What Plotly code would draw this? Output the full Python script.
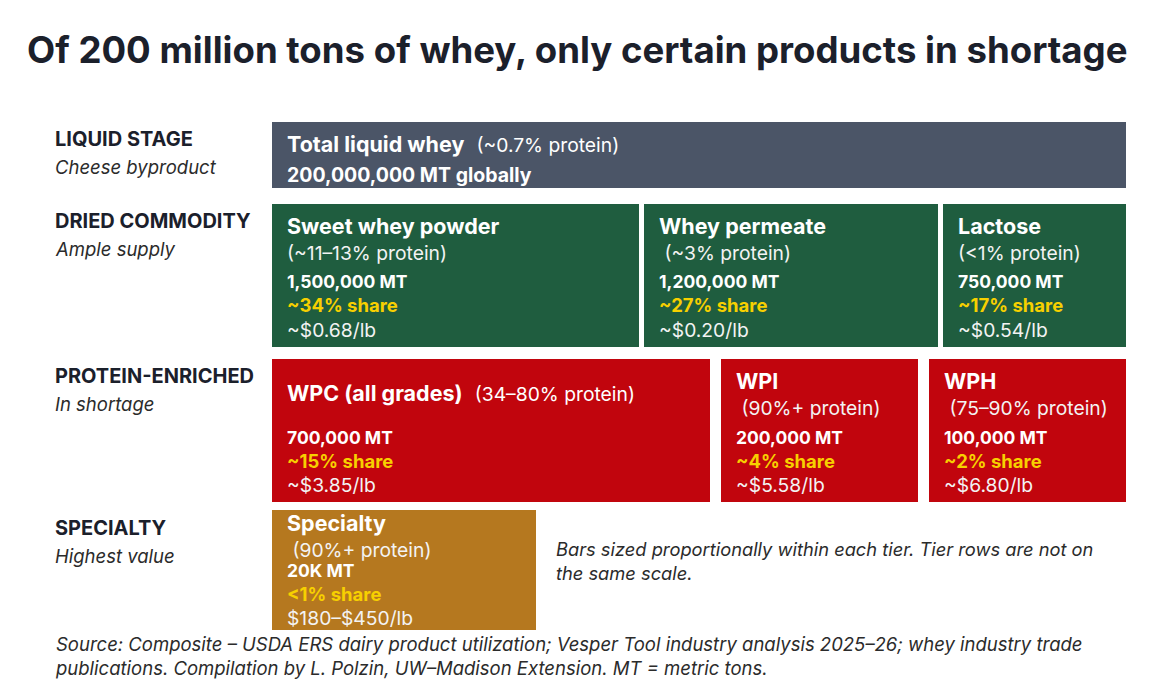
import plotly.graph_objects as go

# ---------------- data ----------------
title = "Of 200 million tons of whey, only certain products in shortage"

tier_names = ["LIQUID STAGE", "DRIED COMMODITY", "PROTEIN-ENRICHED", "SPECIALTY"]
tier_subs = ["Cheese byproduct", "Ample supply", "In shortage", "Highest value"]

liquid_names = ["Total liquid whey"]
liquid_protein = ["(~0.7% protein)"]
liquid_mt = [200_000_000]

dried_names = ["Sweet whey powder", "Whey permeate", "Lactose"]
dried_protein = ["(~11–13% protein)", " (~3% protein)", "(<1% protein)"]
dried_mt = [1_500_000, 1_200_000, 750_000]
dried_share = ["~34% share", "~27% share", "~17% share"]
dried_price = ["~$0.68/lb", "~$0.20/lb", "~$0.54/lb"]

prot_names = ["WPC (all grades)", "WPI", "WPH"]
prot_protein = ["(34–80% protein)", " (90%+ protein)", " (75–90% protein)"]
prot_mt = [700_000, 200_000, 100_000]
prot_share = ["~15% share", "~4% share", "~2% share"]
prot_price = ["~$3.85/lb", "~$5.58/lb", "~$6.80/lb"]

spec_names = ["Specialty"]
spec_protein = [" (90%+ protein)"]
spec_mt_label = ["20K MT"]
spec_mt = [20_000]
spec_share = ["<1% share"]
spec_price = ["$180–$450/lb"]

note = "Bars sized proportionally within each tier. Tier rows are not on<br>the same scale."
source = ("Source: Composite – USDA ERS dairy product utilization; Vesper Tool industry analysis 2025–26; whey industry trade<br>"
          "publications. Compilation by L. Polzin, UW–Madison Extension. MT = metric tons.")

# ---------------- layout constants ----------------
W, H = 1152, 680
FONT = "Inter, 'Noto Sans', sans-serif"
X0, ROW_W = 272, 854
ROWS = [(122, 66), (204, 143), (359, 143), (510, 120)]  # top, height
COLORS = ["#4b5567", "#1f5d3f", "#c1050d", "#b5781f"]
YELLOW = "#f7d000"
BODY = "#f3f3f3"
DARK = "#1b202b"
PAD = 13
T_SIZE = 21.5   # box titles
R_SIZE = 19.3   # regular lines
B_SIZE = 17.5   # bold MT lines
S_SIZE = 18.5   # share lines


def tier_layout(values, gap, min_w, full=ROW_W):
    avail = full - gap * (len(values) - 1)
    total = sum(values)
    widths = [avail * v / total for v in values]
    clamped = [w < min_w for w in widths]
    if any(clamped):
        rest = avail - min_w * sum(clamped)
        free_total = sum(v for v, c in zip(values, clamped) if not c)
        widths = [min_w if c else rest * v / free_total for v, c in zip(values, clamped)]
    starts, x = [], X0
    for w in widths:
        starts.append(x)
        x += w + gap
    return starts, widths


fig = go.Figure()
annots = []


def add_text(x, y, text, size, color=BODY, bold=False, italic=False, xanchor="left"):
    t = text
    if bold:
        t = f"<b>{t}</b>"
    if italic:
        t = f"<i>{t}</i>"
    annots.append(dict(x=x, y=y, xref="x", yref="y", text=t, showarrow=False,
                       xanchor=xanchor, yanchor="middle",
                       font=dict(family=FONT, size=size, color=color)))


def add_bars(starts, widths, row_idx):
    top, h = ROWS[row_idx]
    fig.add_trace(go.Bar(orientation="h", y=[top + h / 2] * len(widths), x=widths,
                         base=starts, width=[h] * len(widths),
                         marker=dict(color=COLORS[row_idx], line=dict(width=0)),
                         hoverinfo="skip", showlegend=False))


# Tier 1 - liquid
s1, w1 = tier_layout(liquid_mt, 0, 0)
add_bars(s1, w1, 0)
top = ROWS[0][0]
add_text(s1[0] + PAD, top + 22,
         f"<b>{liquid_names[0]}</b>  <span style='font-size:{R_SIZE}px'>{liquid_protein[0]}</span>", T_SIZE, "#ffffff")
add_text(s1[0] + PAD, top + 53, f"{liquid_mt[0]:,} MT globally", 19.5, "#ffffff", bold=True)

# Tier 2 - dried
s2, w2 = tier_layout(dried_mt, 5, 0)
add_bars(s2, w2, 1)
top = ROWS[1][0]
for i in range(len(dried_mt)):
    x = s2[i] + PAD
    add_text(x, top + 22, dried_names[i], T_SIZE, "#ffffff", bold=True)
    add_text(x, top + 49, dried_protein[i], R_SIZE)
    add_text(x, top + 77, f"{dried_mt[i]:,} MT", B_SIZE, "#ffffff", bold=True)
    add_text(x, top + 101, dried_share[i], S_SIZE, YELLOW, bold=True)
    add_text(x, top + 126, dried_price[i], R_SIZE)

# Tier 3 - protein enriched
s3, w3 = tier_layout(prot_mt, 11, 197)
add_bars(s3, w3, 2)
top = ROWS[2][0]
for i in range(len(prot_mt)):
    x = s3[i] + PAD
    if i == 0:
        add_text(x, top + 34,
                 f"<b>{prot_names[i]}</b>  <span style='font-size:{R_SIZE}px'>{prot_protein[i]}</span>", T_SIZE, "#ffffff")
    else:
        add_text(x, top + 22, prot_names[i], T_SIZE, "#ffffff", bold=True)
        add_text(x, top + 49, prot_protein[i], R_SIZE)
    add_text(x, top + 78, f"{prot_mt[i]:,} MT", B_SIZE, "#ffffff", bold=True)
    add_text(x, top + 102, prot_share[i], S_SIZE, YELLOW, bold=True)
    add_text(x, top + 126, prot_price[i], R_SIZE)

# Tier 4 - specialty (own scale, fixed display width)
s4, w4 = tier_layout(spec_mt, 0, 0, full=264)
add_bars(s4, w4, 3)
top = ROWS[3][0]
x = s4[0] + PAD
add_text(x, top + 13, spec_names[0], T_SIZE, "#ffffff", bold=True)
add_text(x, top + 40, spec_protein[0], R_SIZE)
add_text(x, top + 60, spec_mt_label[0], B_SIZE, "#ffffff", bold=True)
add_text(x, top + 84, spec_share[0], S_SIZE, YELLOW, bold=True)
add_text(x, top + 108, spec_price[0], R_SIZE)

# Tier labels
label_y = [139, 221, 376, 528]
for name, sub, y in zip(tier_names, tier_subs, label_y):
    add_text(53, y, name, 20, DARK, bold=True)
    add_text(53, y + 28, sub, 18.5, "#2b2b2b", italic=True)

# Note and source
annots.append(dict(x=554, y=561, xref="x", yref="y", text=f"<i>{note}</i>", showarrow=False,
                   xanchor="left", yanchor="middle", align="left",
                   font=dict(family=FONT, size=18.3, color="#2b2b2b")))
annots.append(dict(x=53, y=656, xref="x", yref="y", text=f"<i>{source}</i>", showarrow=False,
                   xanchor="left", yanchor="middle", align="left",
                   font=dict(family=FONT, size=18.5, color="#2b2b2b")))

# Title
annots.append(dict(x=577, y=50, xref="x", yref="y", text=f"<b>{title}</b>", showarrow=False,
                   xanchor="center", yanchor="middle",
                   font=dict(family=FONT, size=36.6, color=DARK)))

fig.update_layout(
    width=W, height=H, margin=dict(l=0, r=0, t=0, b=0),
    paper_bgcolor="white", plot_bgcolor="white",
    barmode="overlay", bargap=0,
    xaxis=dict(range=[0, W], visible=False, fixedrange=True),
    yaxis=dict(range=[H, 0], visible=False, fixedrange=True),
    annotations=annots,
)

fig.write_html("out.html")
